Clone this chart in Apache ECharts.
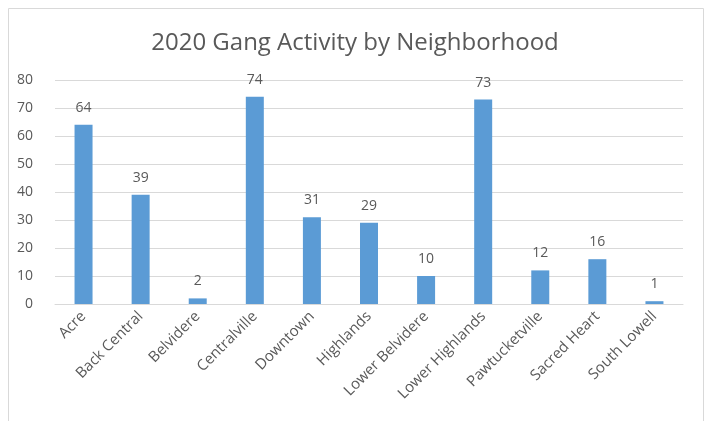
<!DOCTYPE html>
<html>
<head>
<meta charset="utf-8">
<script src="https://cdn.jsdelivr.net/npm/echarts@6/dist/echarts.min.js"></script>
<style>
html, body { margin: 0; padding: 0; background: #fff; }
#myChart { width: 710px; height: 421px; }
</style>
</head>
<body>
<div id="myChart"></div>
<script>
// neighborhoods and counts
var categories = ['Acre', 'Back Central', 'Belvidere', 'Centralville', 'Downtown', 'Highlands',
    'Lower Belvidere', 'Lower Highlands', 'Pawtucketville', 'Sacred Heart', 'South Lowell'];
var counts = [64, 39, 2, 74, 31, 29, 10, 73, 12, 16, 1];
var yTicks = [0, 10, 20, 30, 40, 50, 60, 70, 80];

var textColor = '#595959';
var myChart = echarts.init(document.getElementById("myChart"));
var option = {
    animation: false,
    title: {
        text: "2020 Gang Activity by Neighborhood",
        left: 'center',
        top: 26,
        textStyle: {
            color: textColor,
            fontSize: 24,
            fontWeight: 'normal',
            fontFamily: 'Open Sans'
        }
    },
    graphic: [
        {
            type: 'rect',
            shape: { x: 8.5, y: 8.5, width: 695, height: 420 },
            style: { fill: 'none', stroke: '#d9d9d9', lineWidth: 1 },
            silent: true
        }
    ],
    grid: {
        top: 80,
        left: 55,
        right: 27,
        bottom: 117
    },
    xAxis: {
        type: 'category',
        data: categories,
        axisTick: { show: false },
        axisLine: { lineStyle: { color: '#d9d9d9' } },
        axisLabel: {
            rotate: 45,
            interval: 0,
            color: textColor,
            fontSize: 15,
            fontFamily: 'Open Sans',
            margin: 10
        }
    },
    yAxis: {
        type: 'value',
        min: yTicks[0],
        max: yTicks[yTicks.length - 1],
        interval: 10,
        axisLine: { show: false },
        axisTick: { show: false },
        splitLine: { lineStyle: { color: '#d9d9d9' } },
        axisLabel: {
            color: textColor,
            fontSize: 14,
            fontFamily: 'Open Sans',
            margin: 22
        }
    },
    series: [
        {
            type: 'bar',
            data: counts,
            barWidth: 18,
            itemStyle: { color: '#5b9bd5' },
            label: {
                show: true,
                position: 'top',
                distance: 10,
                color: textColor,
                fontSize: 14,
                fontFamily: 'Open Sans'
            }
        }
    ]
};
myChart.setOption(option);
</script>
</body>
</html>
